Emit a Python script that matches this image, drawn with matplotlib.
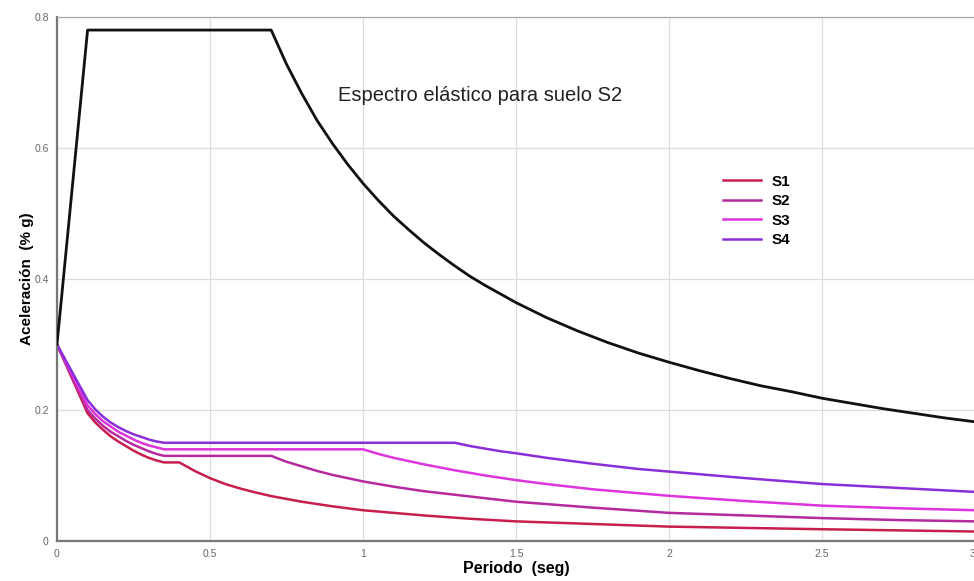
import matplotlib
matplotlib.use("Agg")
import matplotlib.pyplot as plt

plt.rcParams["font.family"] = ["Liberation Sans", "DejaVu Sans"]

# elastic spectrum, soil S2
t_el = [0.0, 0.1, 0.7, 0.75, 0.8, 0.85, 0.9, 0.95, 1.0, 1.05, 1.1, 1.15,
        1.2, 1.25, 1.3, 1.35, 1.4, 1.45, 1.5, 1.6, 1.7, 1.8, 1.9, 2.0,
        2.1, 2.2, 2.3, 2.4, 2.5, 2.6, 2.7, 2.8, 2.9, 3.0]
a_el = [0.30, 0.78, 0.780, 0.728, 0.683, 0.642, 0.607, 0.575, 0.546, 0.520,
        0.496, 0.475, 0.455, 0.437, 0.420, 0.404, 0.390, 0.377, 0.364, 0.341,
        0.321, 0.303, 0.287, 0.273, 0.260, 0.248, 0.237, 0.228, 0.218, 0.210,
        0.202, 0.195, 0.188, 0.182]

# design spectra per soil type
t_s1 = [0.0, 0.1, 0.125, 0.15, 0.175, 0.2, 0.225, 0.25, 0.275, 0.3, 0.325,
        0.35, 0.4, 0.45, 0.5, 0.55, 0.6, 0.65, 0.7, 0.8, 0.9, 1.0, 1.1, 1.2,
        1.35, 1.5, 1.75, 2.0, 2.5, 3.0]
a_s1 = [0.30, 0.195, 0.181, 0.170, 0.160, 0.152, 0.145, 0.138, 0.132, 0.127,
        0.123, 0.12, 0.12, 0.107, 0.096, 0.087, 0.080, 0.074, 0.0686, 0.060,
        0.053, 0.047, 0.043, 0.039, 0.034, 0.030, 0.026, 0.022, 0.018, 0.0145]

t_s2 = [0.0, 0.1, 0.125, 0.15, 0.175, 0.2, 0.225, 0.25, 0.275, 0.3, 0.325,
        0.35, 0.7, 0.75, 0.8, 0.85, 0.9, 0.95, 1.0, 1.1, 1.2, 1.35, 1.5,
        1.75, 2.0, 2.25, 2.5, 2.75, 3.0]
a_s2 = [0.30, 0.200, 0.187, 0.176, 0.167, 0.160, 0.153, 0.147, 0.142, 0.137,
        0.133, 0.13, 0.13, 0.121, 0.114, 0.107, 0.101, 0.096, 0.091, 0.083,
        0.076, 0.068, 0.060, 0.051, 0.043, 0.039, 0.035, 0.032, 0.030]

t_s3 = [0.0, 0.1, 0.125, 0.15, 0.175, 0.2, 0.225, 0.25, 0.275, 0.3, 0.325,
        0.35, 1.0, 1.05, 1.1, 1.15, 1.2, 1.3, 1.4, 1.5, 1.6, 1.75, 2.0,
        2.25, 2.5, 2.75, 3.0]
a_s3 = [0.30, 0.207, 0.194, 0.183, 0.175, 0.167, 0.161, 0.155, 0.150, 0.146,
        0.143, 0.14, 0.14, 0.133, 0.127, 0.122, 0.117, 0.108, 0.100, 0.093,
        0.087, 0.079, 0.069, 0.061, 0.054, 0.050, 0.047]

t_s4 = [0.0, 0.1, 0.125, 0.15, 0.175, 0.2, 0.225, 0.25, 0.275, 0.3, 0.325,
        0.35, 1.3, 1.35, 1.4, 1.45, 1.5, 1.6, 1.75, 1.9, 2.0, 2.25, 2.5,
        2.75, 3.0]
a_s4 = [0.30, 0.215, 0.201, 0.190, 0.181, 0.174, 0.168, 0.163, 0.159, 0.155,
        0.152, 0.15, 0.15, 0.145, 0.141, 0.137, 0.134, 0.127, 0.118, 0.110,
        0.106, 0.096, 0.087, 0.081, 0.075]

x_ticks = [0, 0.5, 1, 1.5, 2, 2.5, 3]
x_labels = ["0", "0.5", "1", "1.5", "2", "2.5", "3"]
y_ticks = [0, 0.2, 0.4, 0.6, 0.8]
y_labels = ["0", "0.2", "0.4", "0.6", "0.8"]

fig = plt.figure(figsize=(9.74, 5.81), dpi=100)
ax = fig.add_axes([0.0585, 0.0688, 0.9425, 0.902])

ax.plot(t_el, a_el, color="#111111", lw=2.0, zorder=5)
ax.plot(t_s1, a_s1, color="#c81e4e", lw=1.8, label="S1")
ax.plot(t_s2, a_s2, color="#b62a9e", lw=1.8, label="S2")
ax.plot(t_s3, a_s3, color="#dd34dd", lw=1.8, label="S3")
ax.plot(t_s4, a_s4, color="#8a2fd8", lw=1.8, label="S4")

ax.set_xlim(0, 3)
ax.set_ylim(0, 0.8)
ax.set_xticks(x_ticks)
ax.set_xticklabels(x_labels)
ax.set_yticks(y_ticks)
ax.set_yticklabels(y_labels)
ax.tick_params(length=0, labelsize=7.5, labelcolor="#666666", pad=6)
# last period label sits on the figure edge
ax.get_xticklabels()[-1].set_horizontalalignment("right")
ax.grid(True, color="#dddddd", lw=0.9)
ax.set_axisbelow(True)

for side in ("left", "bottom"):
    ax.spines[side].set_color("#777777")
    ax.spines[side].set_linewidth(1.6)
ax.spines["top"].set_color("#aaaaaa")
ax.spines["top"].set_linewidth(0.9)
ax.spines["right"].set_visible(False)

ax.set_xlabel("Periodo  (seg)", fontsize=11.5, fontweight="bold", labelpad=1)
ax.set_ylabel("Aceleración  (% g)", fontsize=11, fontweight="bold", labelpad=0)

ax.text(0.306, 0.851, "Espectro elástico para suelo S2", transform=ax.transAxes,
        fontsize=14.5, color="#222222", va="center")

ax.legend(loc="upper left", bbox_to_anchor=(0.71, 0.725), frameon=False,
          handlelength=2.5, handletextpad=0.7, labelspacing=0.36,
          prop={"weight": "bold", "size": 11})

fig.savefig("out.png", dpi=100)
